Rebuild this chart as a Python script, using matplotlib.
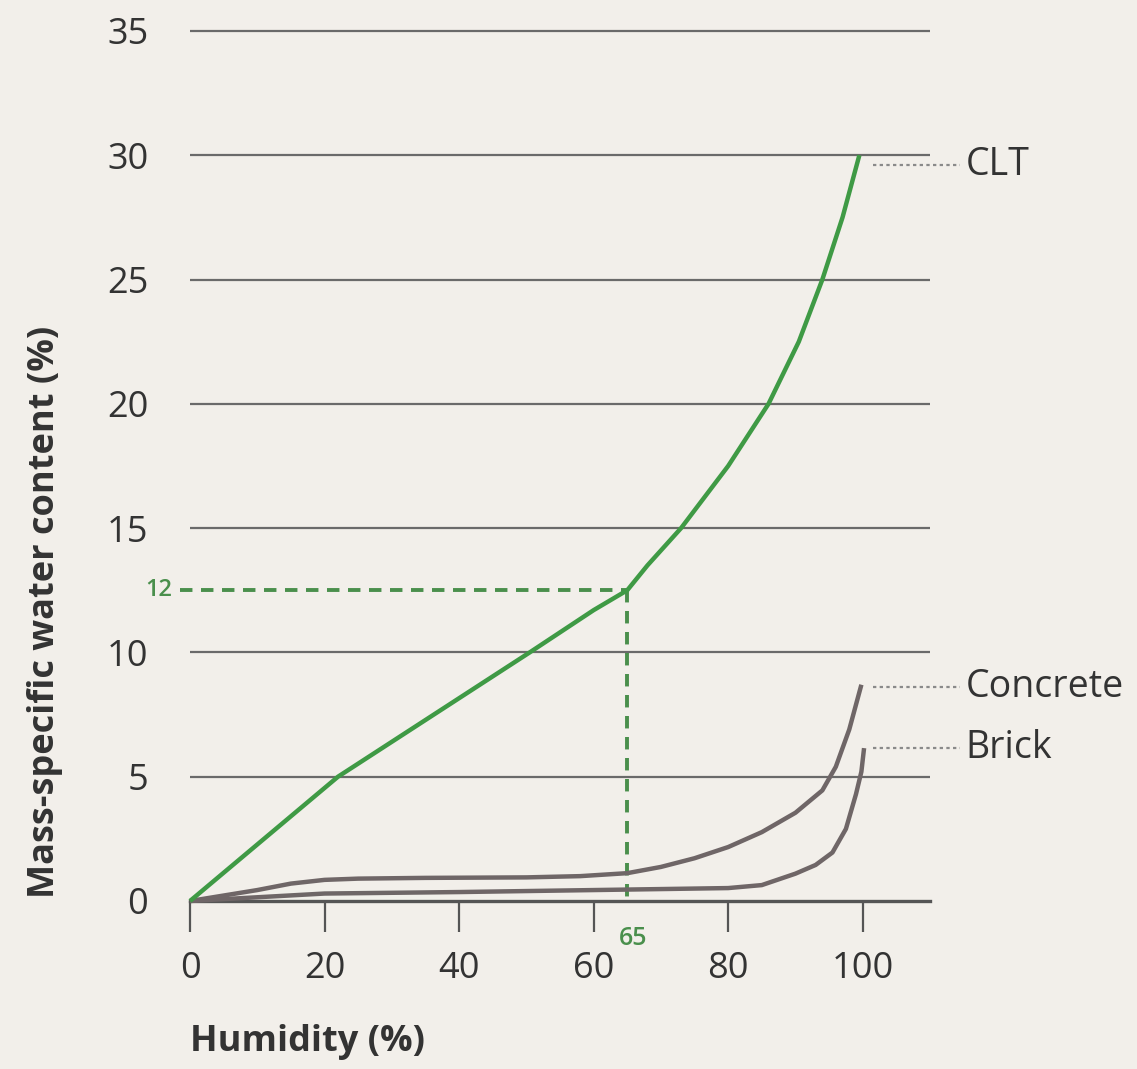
import matplotlib as mpl
mpl.use("Agg")
import matplotlib.pyplot as plt

humidity_clt = [0, 22, 50.5, 60, 65, 68, 73, 80, 86, 90.5, 94, 97, 99.5]
water_clt = [0, 5, 10, 11.7, 12.5, 13.5, 15, 17.5, 20, 22.5, 25, 27.5, 30]

humidity_concrete = [0, 5, 10, 15, 20, 25, 35, 50, 58, 65, 70, 75, 80, 85, 90, 94, 96, 98, 99.8]
water_concrete = [0, 0.22, 0.44, 0.7, 0.85, 0.9, 0.93, 0.95, 1.0, 1.12, 1.37, 1.72, 2.17, 2.77, 3.55, 4.45, 5.4, 6.9, 8.7]

humidity_brick = [0, 10, 20, 40, 60, 80, 85, 90, 93, 95.5, 97.5, 99, 99.8, 100.2]
water_brick = [0, 0.15, 0.3, 0.36, 0.44, 0.52, 0.64, 1.1, 1.45, 1.95, 2.9, 4.3, 5.2, 6.15]

marker_x, marker_y = 65, 12.5
label_names = ["CLT", "Concrete", "Brick"]
label_y = [29.6, 8.6, 6.15]
x_ticks = [0, 20, 40, 60, 80, 100]
y_ticks = [0, 5, 10, 15, 20, 25, 30, 35]

BG = "#f2efea"
GREEN = "#3f9a45"
DASH_GREEN = "#4a8f4c"
BROWN = "#6f6667"
TEXT = "#333333"
GRID = "#6a6a6a"
FONT = "Open Sans"

plt.rcParams["font.family"] = FONT

fig = plt.figure(figsize=(11.37, 10.69), dpi=100, facecolor=BG)
ax = fig.add_axes([190 / 1137, 168 / 1069, 740 / 1137, 36 * 24.86 / 1069])
ax.set_facecolor(BG)
ax.set_xlim(0, 110)
ax.set_ylim(0, 36)

for y in y_ticks[1:]:
    ax.axhline(y, color=GRID, lw=1.6, zorder=1)

ax.plot(humidity_concrete, water_concrete, color=BROWN, lw=3.2, solid_capstyle="butt", zorder=3, clip_on=False)
ax.plot(humidity_brick, water_brick, color=BROWN, lw=3.2, solid_capstyle="butt", zorder=3, clip_on=False)
ax.plot(humidity_clt, water_clt, color=GREEN, lw=3.2, solid_capstyle="butt", zorder=4, clip_on=False)

dash = (0, (3.2, 2.2))
ax.plot([-1.5, marker_x], [marker_y, marker_y], color=DASH_GREEN, lw=2.8, ls=dash, clip_on=False, zorder=2)
ax.plot([marker_x, marker_x], [marker_y, 0], color=DASH_GREEN, lw=2.8, ls=dash, clip_on=False, zorder=2)
ax.text(-2.6, marker_y, "12", color=DASH_GREEN, fontsize=17, fontweight="semibold", ha="right", va="center")
ax.text(marker_x + 0.8, -1.0, "65", color=DASH_GREEN, fontsize=18, fontweight="semibold", ha="center", va="top")

for name, y in zip(label_names, label_y):
    ax.plot([101.5, 114.5], [y, y], color="#8a8a8a", lw=1.6, ls=(0, (1.5, 1.5)), clip_on=False)
    ax.text(115.3, y, name, color=TEXT, fontsize=27, ha="left", va="center")

for s in ["top", "right", "left"]:
    ax.spines[s].set_visible(False)
ax.spines["bottom"].set_color("#555555")
ax.spines["bottom"].set_linewidth(2.4)
ax.spines["bottom"].set_zorder(2)

ax.set_xticks(x_ticks)
ax.set_yticks(y_ticks)
ax.tick_params(axis="x", length=22, width=1.6, color="#555555", pad=14, labelsize=26, labelcolor=TEXT)
ax.tick_params(axis="y", length=0, pad=30, labelsize=26, labelcolor=TEXT)

fig.text(190 / 1137, 1 - 1042 / 1069, "Humidity (%)", fontsize=26, fontweight="bold",
         color=TEXT, ha="left", va="center")
fig.text(45 / 1137, 1 - 612 / 1069, "Mass-specific water content (%)", fontsize=26, fontweight="bold",
         color=TEXT, ha="center", va="center", rotation=90)

fig.savefig("out.png", dpi=100, facecolor=BG)
